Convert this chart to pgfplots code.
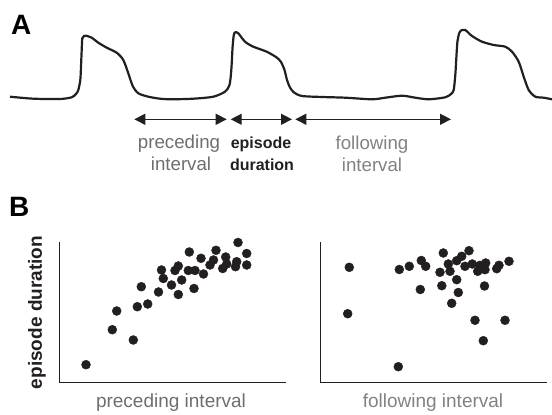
\documentclass[border=0pt]{standalone}
\usepackage{pgfplots}
\pgfplotsset{compat=1.18}
\usepackage{fontspec}
\setmainfont{Liberation Sans}
\usetikzlibrary{arrows.meta}
\definecolor{ink}{HTML}{231F20}
\definecolor{txtgray}{HTML}{6D6E71}
\definecolor{txtgray2}{HTML}{808285}
\begin{document}
\begin{tikzpicture}[x=1pt,y=1pt]
\begin{axis}[at={(0pt,0pt)}, anchor=south west, scale only axis,
  width=552pt, height=415pt, xmin=0, xmax=552, ymin=0, ymax=415,
  axis lines=none, clip=false]
\addplot[smooth, tension=0.45, line width=2.2pt, color=ink] coordinates {
(10,318.3) (33.3,316.3) (60,316) (71.7,317.7) (76,321) (78.3,325) (80.3,335) (81,348.3)
(81.7,365) (82.3,376.7) (84,379) (86,379.3) (91.7,377.3) (98.3,372.3) (106.7,367.3)
(116.7,362.3) (123.3,355) (128.3,341.7) (132.7,329) (138.3,321.7) (148.3,318.3)
(160,316.3) (171.7,315.7) (193.3,316.3) (213.3,318.3) (225,323.3) (229.5,330)
(231.3,345) (232.6,368) (233.8,380) (235.3,382.7) (238.3,381.7) (245,373.3) (253.3,368.3)
(266.7,363.3) (276.7,357.5) (281,353) (284.5,345) (287,335) (290,327.5) (294,322.5)
(302,319) (322,318) (345.3,317.3) (372,315.7) (385.3,317.3) (402,319.3) (415.3,317.3)
(428.7,315.7) (445.3,317.7) (451,321) (453.7,325) (455.3,340) (456.2,355) (457.5,374)
(459.5,382.5) (462,385) (465.3,385) (472,379) (482,373.3) (493.7,370) (505.3,368.3)
(512,363.3) (518.7,353.3) (523.7,338.3) (528.7,325) (535.3,318.3) (543.7,317.3) (552,315.7)
};
\draw[ink, line width=1.3pt, {Triangle[length=11pt,width=11pt]}-{Triangle[length=11pt,width=11pt]}]
  (axis cs:134.3,295.7) -- (axis cs:226.7,295.7);
\draw[ink, line width=1.3pt, {Triangle[length=11pt,width=11pt]}-{Triangle[length=11pt,width=11pt]}]
  (axis cs:230.7,295.7) -- (axis cs:292,295.7);
\draw[ink, line width=1.3pt, {Triangle[length=11pt,width=11pt]}-{Triangle[length=11pt,width=11pt]}]
  (axis cs:295.3,295.7) -- (axis cs:451,295.7);
\node[anchor=base, inner sep=0pt, text=txtgray, font=\fontsize{18.7}{22}\selectfont] at (axis cs:179,266) {preceding};
\node[anchor=base, inner sep=0pt, text=txtgray, font=\fontsize{18.7}{22}\selectfont] at (axis cs:181,244) {interval};
\node[anchor=base, inner sep=0pt, text=ink, font=\fontsize{16}{20}\bfseries\selectfont] at (axis cs:261,266) {episode};
\node[anchor=base, inner sep=0pt, text=ink, font=\fontsize{16}{20}\bfseries\selectfont] at (axis cs:262,244) {duration};
\node[anchor=base, inner sep=0pt, text=txtgray2, font=\fontsize{18.7}{22}\selectfont] at (axis cs:372,265) {following};
\node[anchor=base, inner sep=0pt, text=txtgray2, font=\fontsize{18.7}{22}\selectfont] at (axis cs:372,243) {interval};
\node[anchor=base west, inner sep=0pt, text=black, font=\fontsize{28}{30}\bfseries\selectfont] at (axis cs:11,380) {A};
\node[anchor=base west, inner sep=0pt, text=black, font=\fontsize{28}{30}\bfseries\selectfont] at (axis cs:9,198.3) {B};
\node[rotate=90, inner sep=0pt, text=ink, font=\fontsize{19}{22}\bfseries\selectfont] at (axis cs:37,102.5) {episode duration};
\node[anchor=base, inner sep=0pt, text=txtgray, font=\fontsize{19}{22}\selectfont] at (axis cs:171,7) {preceding interval};
\node[anchor=base, inner sep=0pt, text=txtgray2, font=\fontsize{19}{22}\selectfont] at (axis cs:433,7) {following interval};
\end{axis}

\begin{axis}[at={(59.3pt,32.3pt)}, anchor=south west, scale only axis,
  width=226.7pt, height=140.4pt, xmin=59.3, xmax=286, ymin=32.3, ymax=172.7,
  axis x line=bottom, axis y line=left, axis line style={-, line width=1.2pt, color=ink},
  ticks=none, clip=false]
\addplot[only marks, mark=*, mark size=4.5pt, color=ink, mark options={fill=ink, draw=ink}] coordinates {
(86,50.3) (112.3,85.3) (116.7,104) (133.3,75) (137.3,108.3) (141.3,128.3) (147.7,111)
(158.5,123) (161.5,145) (163.3,136.5) (171.5,130) (175,144.5) (178.3,149) (178.3,120.5)
(181.7,135) (188.3,144.5) (189.3,163) (195,144.5) (194,126.5) (201,156.7) (203.5,141)
(210,150) (213.5,155) (216,164.7) (222.7,146.5) (225.7,158) (226.7,151) (236.7,153.3)
(235.5,148.3) (238,172.5) (246.7,161.5) (246.7,150)
};
\end{axis}

\begin{axis}[at={(320.7pt,32.3pt)}, anchor=south west, scale only axis,
  width=226.6pt, height=140.4pt, xmin=320.7, xmax=547.3, ymin=32.3, ymax=172.7,
  axis x line=bottom, axis y line=left, axis line style={-, line width=1.2pt, color=ink},
  ticks=none, clip=false]
\addplot[only marks, mark=*, mark size=4.5pt, color=ink, mark options={fill=ink, draw=ink}] coordinates {
(349.3,147.7) (347.7,101.3) (398.3,48.3) (399.3,145.5) (409.3,148.7) (420.3,125.5)
(421.3,154.5) (425.7,148.7) (440,142.7) (441.8,129.3) (443.3,162) (448.3,151) (450,143.7)
(451.7,111.7) (456.7,135.3) (458.3,122.5) (456.7,154.3) (461.7,158.7) (465,148.7)
(469,164.3) (472.3,151) (475,94.7) (477.7,143.7) (480,149.7) (483.3,74.3) (484.5,129)
(485.7,152) (485,145.3) (496.7,146.3) (499,149.7) (505,94.7) (509,153.7)
};
\end{axis}
\pgfresetboundingbox
\path (0pt,0pt) rectangle (552pt,415pt);
\end{tikzpicture}
\end{document}
